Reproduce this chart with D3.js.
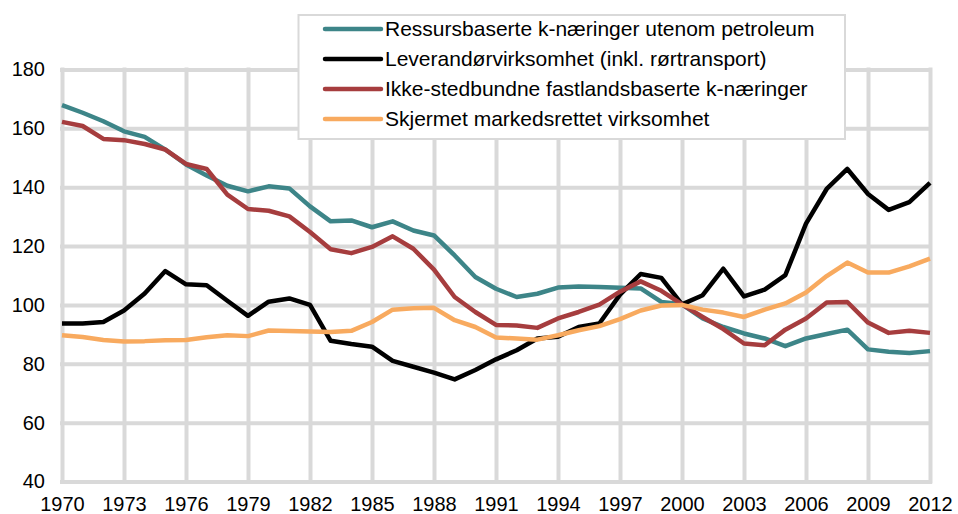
<!DOCTYPE html>
<html>
<head>
<meta charset="utf-8">
<script src="https://cdn.jsdelivr.net/npm/d3@7"></script>
<style>
  body { margin: 0; background: #fff; }
  svg { display: block; font-family: "Liberation Sans", Arial, sans-serif; }
  .tick text { fill: #000; }
</style>
</head>
<body>
<div id="chart"></div>
<script>
var svgWidth = 958;
var svgHeight = 514;

// Data (index, 2000 = 100)
var years = d3.range(1970, 2013);

var ressurs = [167.9, 165.3, 162.4, 159.0, 157.1, 152.8, 147.7, 144.0, 140.5, 138.6,
    140.3, 139.6, 133.5, 128.4, 128.7, 126.4, 128.4, 125.3, 123.6, 116.8,
    109.5, 105.5, 102.7, 103.8, 105.9, 106.3, 106.1, 105.8, 105.6, 101.0,
    100.2, 95.4, 92.5, 90.3, 88.6, 86.0, 88.6, 90.1, 91.6, 84.9,
    84.1, 83.7, 84.3];

var leverandor = [93.7, 93.7, 94.2, 98.1, 103.9, 111.5, 107.0, 106.7, 101.4, 96.3,
    101.1, 102.2, 100.0, 87.8, 86.7, 85.8, 81.0, 79.0, 77.0, 74.7,
    77.9, 81.5, 84.6, 88.6, 89.2, 92.5, 93.7, 103.5, 110.5, 109.2,
    100.2, 103.3, 112.3, 102.9, 105.2, 110.1, 127.6, 139.4, 146.2, 137.7,
    132.3, 134.9, 141.5];

var ikkeStedbundne = [162.2, 160.8, 156.4, 156.0, 154.7, 152.8, 147.9, 146.2, 137.5, 132.6,
    132.0, 130.1, 124.8, 118.9, 117.6, 119.7, 123.3, 119.1, 112.0, 102.7,
    97.6, 93.2, 93.0, 92.2, 95.4, 97.6, 100.1, 104.5, 108.0, 104.8,
    100.2, 95.9, 91.8, 86.9, 86.3, 91.6, 95.4, 100.8, 101.0, 94.0,
    90.5, 91.2, 90.5];

var skjermet = [89.7, 89.1, 88.1, 87.6, 87.7, 88.0, 88.1, 89.0, 89.7, 89.4,
    91.3, 91.1, 91.0, 90.8, 91.2, 94.2, 98.4, 98.9, 99.0, 94.8,
    92.5, 88.9, 88.6, 88.2, 89.7, 91.4, 92.8, 95.2, 98.1, 99.8,
    100.0, 98.4, 97.4, 95.9, 98.4, 100.5, 104.2, 109.8, 114.4, 111.0,
    111.0, 113.1, 115.7];

var seriesNames = [
    "Ressursbaserte k-næringer utenom petroleum",
    "Leverandørvirksomhet (inkl. rørtransport)",
    "Ikke-stedbundne fastlandsbaserte k-næringer",
    "Skjermet markedsrettet virksomhet"
];
var seriesColors = ["#3d8588", "#000000", "#a63d3e", "#f8aa5f"];
var seriesValues = [ressurs, leverandor, ikkeStedbundne, skjermet];

var yTicks = [40, 60, 80, 100, 120, 140, 160, 180];
var xTicks = d3.range(1970, 2013, 3);

var plot = { left: 62, right: 930, top: 69.5, bottom: 481.5 };

var svg = d3.select("#chart")
    .append("svg")
    .attr("width", svgWidth)
    .attr("height", svgHeight);

var xScale = d3.scaleLinear()
    .domain([1970, 2012])
    .range([plot.left, plot.right]);

var yScale = d3.scaleLinear()
    .domain([40, 180])
    .range([plot.bottom, plot.top]);

// gridlines + tick labels come from the axes
var leftAxis = d3.axisLeft(yScale)
    .tickValues(yTicks)
    .tickSize(-(plot.right - plot.left))
    .tickPadding(17);

var bottomAxis = d3.axisBottom(xScale)
    .tickValues(xTicks)
    .tickFormat(d3.format("d"))
    .tickSize(-(plot.bottom - plot.top))
    .tickPadding(15);

var gy = svg.append("g")
    .attr("transform", `translate(${plot.left}, 0)`)
    .call(leftAxis);

var gx = svg.append("g")
    .attr("transform", `translate(0, ${plot.bottom})`)
    .call(bottomAxis);

[gx, gy].forEach(function(g) {
    g.select(".domain").remove();
    g.selectAll(".tick line")
        .attr("stroke", "#d9d9d9")
        .attr("stroke-width", 4)
        .attr("stroke-linecap", "square");
    g.selectAll(".tick text")
        .attr("font-size", "20px")
        .attr("font-family", "Liberation Sans, Arial, sans-serif");
});

// lines
var line = d3.line()
    .x((d, i) => xScale(years[i]))
    .y(d => yScale(d));

seriesValues.forEach(function(vals, k) {
    svg.append("path")
        .datum(vals)
        .attr("fill", "none")
        .attr("stroke", seriesColors[k])
        .attr("stroke-width", 4.5)
        .attr("stroke-linejoin", "round")
        .attr("d", line);
});

// legend
var legend = svg.append("g");

legend.append("rect")
    .attr("x", 298.5)
    .attr("y", 15)
    .attr("width", 546.5)
    .attr("height", 124)
    .attr("fill", "#fff")
    .attr("stroke", "#d9d9d9")
    .attr("stroke-width", 2);

seriesNames.forEach(function(name, k) {
    var yy = 29 + k * 30;
    legend.append("line")
        .attr("x1", 325)
        .attr("x2", 381)
        .attr("y1", yy)
        .attr("y2", yy)
        .attr("stroke", seriesColors[k])
        .attr("stroke-width", 4.5)
        .attr("stroke-linecap", "round");
    legend.append("text")
        .attr("x", 385)
        .attr("y", yy)
        .attr("dy", "0.35em")
        .attr("font-size", "21px")
        .attr("fill", "#000")
        .text(name);
});
</script>
</body>
</html>
